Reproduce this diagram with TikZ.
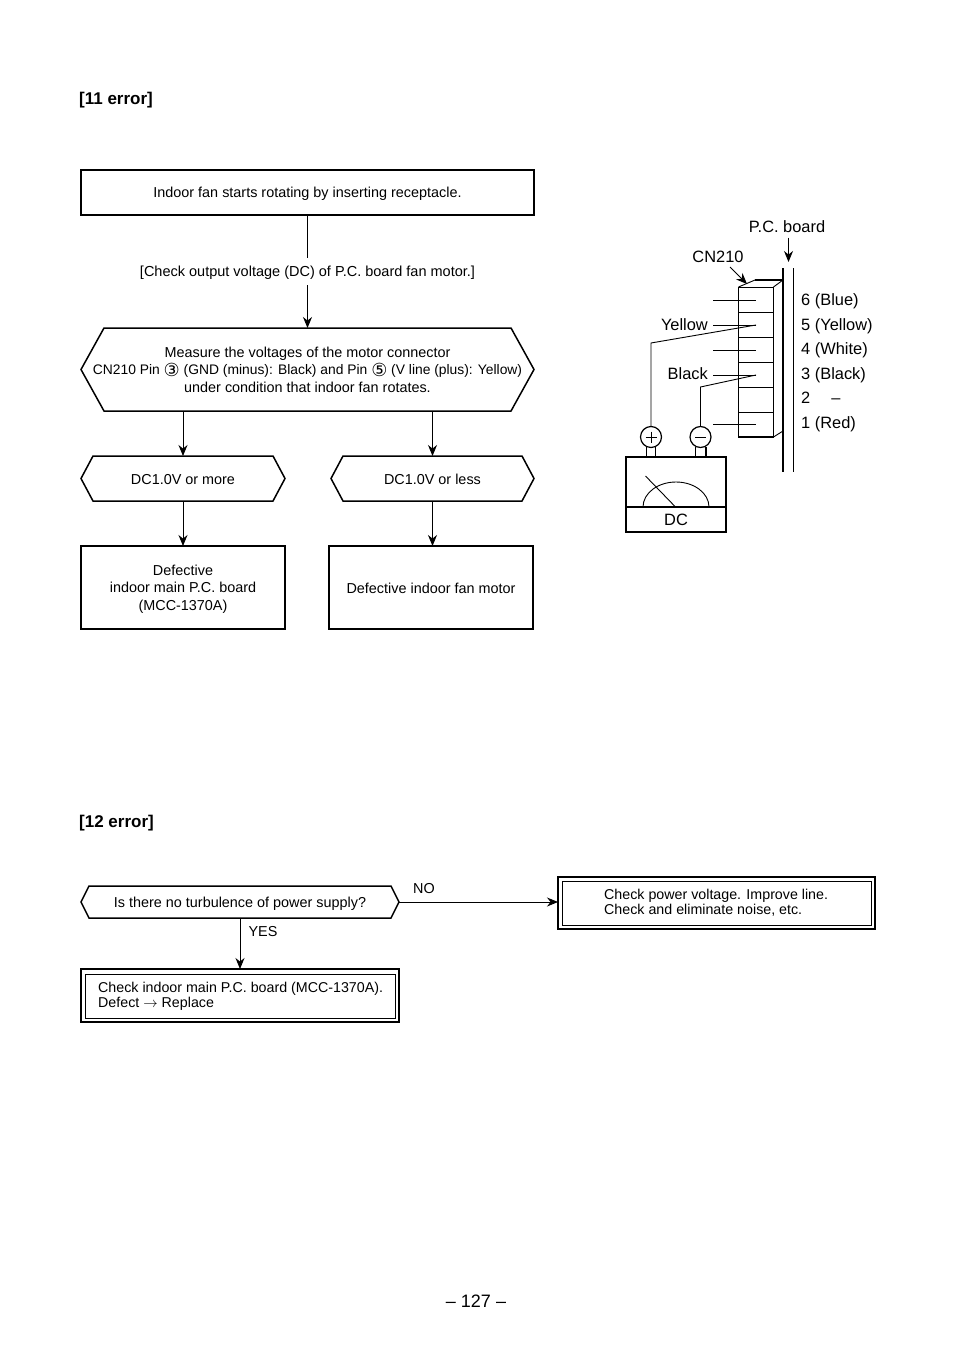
\documentclass[tikz,border=0pt]{standalone}
\usepackage{fontspec}
\setmainfont{Liberation Sans}
\newfontfamily\symfont{DejaVu Sans}
\usetikzlibrary{arrows.meta,calc}
\tikzset{
  txt/.style={font=\fontsize{14.4}{17.8}\selectfont,inner sep=0pt,align=center},
  oneline/.style={text height=11pt,text depth=0pt},
  threeline/.style={text height=49.5pt,text depth=3pt},
  lbl/.style={font=\fontsize{16.4}{19}\selectfont,inner sep=0pt,text height=11.8pt,text depth=0pt},
  head/.style={font=\fontsize{17}{19}\selectfont\bfseries,inner sep=0pt,anchor=west,text height=11.8pt,text depth=0pt},
  flowbox/.style={draw,line width=1.5pt,outer sep=0pt},
  hexbox/.style={txt,outer sep=0pt},
  hexline/.style={line width=1.5pt,line join=miter},
  dblbox/.style={draw,line width=1.5pt,outer sep=0pt},
  inbox/.style={draw,line width=0.8pt,outer sep=0pt,inner sep=0pt},
  intxt/.style={font=\fontsize{14.25}{15.2}\selectfont,inner sep=0pt,align=left,anchor=west},
  flow/.style={line width=0.9pt,-{Stealth[length=11pt,width=9pt]}},
  wire/.style={line width=0.9pt},
  heavy/.style={line width=1.8pt},
  bignum/.style={font=\fontsize{18}{19}\selectfont,inner sep=0pt}
}
\newcommand{\HexLine}[2]{\draw[hexline] (#1.west) -- ($(#1.north west)+(#2,0)$) -- ($(#1.north east)+(-#2,0)$) -- (#1.east) -- ($(#1.south east)+(-#2,0)$) -- ($(#1.south west)+(#2,0)$) -- cycle;}
\newcommand{\Ring}[1]{\raisebox{-1.5pt}{\symfont\fontsize{18}{10}\selectfont #1}}
\begin{document}
\begin{tikzpicture}[x=1pt,y=-1pt]
  \useasboundingbox (0,0) rectangle (954,1348);
  \node[head] (head11) at (79,99){[11 error]};
  \node[head] (head12) at (79,822){[12 error]};

  % upper chart
  \node[txt,oneline,flowbox,minimum width=453pt,minimum height=45pt] (start) at (307.5,192.5){Indoor fan starts rotating by inserting receptacle.};
  \node[hexbox,threeline,minimum width=453pt,minimum height=83pt] (measure) at (307.5,369.5){Measure the voltages of the motor connector\\{\fontsize{13.85}{17.8}\selectfont CN210 Pin \Ring{③} (GND (minus): Black) and Pin \Ring{⑤} (V line (plus): Yellow)}\\under condition that indoor fan rotates.};
  \HexLine{measure}{23}
  \node[hexbox,oneline,minimum width=204pt,minimum height=45pt] (dcmore) at (183,478.5){DC1.0V or more};
  \HexLine{dcmore}{12}
  \node[hexbox,oneline,minimum width=203pt,minimum height=45pt] (dcless) at (432.5,478.5){DC1.0V or less};
  \HexLine{dcless}{12}
  \node[txt,threeline,flowbox,minimum width=204pt,minimum height=83pt] (mainpcb) at (183,587.5){Defective\\indoor main P.C. board\\(MCC-1370A)};
  \node[txt,oneline,flowbox,minimum width=204pt,minimum height=83pt] (fanmotor) at (431,587.5){Defective indoor fan motor};
  \draw[flow] (start) -- (measure);
  \node[txt,oneline,font=\fontsize{14.5}{17.8}\selectfont,fill=white,inner ysep=8pt,inner xsep=2pt] (checkdc) at (307.5,271){[Check output voltage (DC) of P.C. board fan motor.]};
  \draw[flow] (dcmore.north |- measure.south) -- (dcmore.north);
  \draw[flow] (dcless.north |- measure.south) -- (dcless.north);
  \draw[flow] (dcmore.south) -- (mainpcb.north -| dcmore.south);
  \draw[flow] (dcless.south) -- (fanmotor.north -| dcless.south);

  % lower chart
  \node[hexbox,oneline,minimum width=318pt,minimum height=32pt] (supply) at (240,902){Is there no turbulence of power supply?};
  \HexLine{supply}{8}
  \node[dblbox,minimum width=318pt,minimum height=53pt] (checkmain) at (240,995.5){};
  \node[inbox,minimum width=310pt,minimum height=44pt] (checkmainin) at (240,996){};
  \node[intxt] (checkmaintxt) at (98,996){Check indoor main P.C. board (MCC-1370A).\\Defect $\rightarrow$ Replace};
  \node[dblbox,minimum width=317pt,minimum height=52pt] (checkpower) at (716.5,903){};
  \node[inbox,minimum width=309pt,minimum height=44pt] (checkpowerin) at (716.5,903){};
  \node[intxt] (checkpowertxt) at (604,903){Check power voltage. Improve line.\\Check and eliminate noise, etc.};
  \draw[flow] (supply.east) -- (checkpower.west |- supply.east);
  \draw[flow] (supply.south) -- (checkmain.north -| supply.south);
  \node[txt,oneline] (no) at (424,888){NO};
  \node[txt,oneline] (yes) at (263,931){YES};

  % connector and meter
  \coordinate (a1) at (738.5,287);
  \coordinate (a2) at (773.5,287);
  \coordinate (a3) at (773.5,437);
  \coordinate (a4) at (738.5,437);
  \coordinate (b1) at (755,280);
  \coordinate (b2) at (783,280);
  \coordinate (b3) at (783,431);
  \draw[wire] (a1) rectangle (a3);
  \draw[wire] (a1) -- (b1) (a2) -- (b2) (a3) -- (b3);
  \draw[heavy] (b1) -- (b2);
  \draw[heavy] (a4) -- (a3);
  \draw[heavy] (a2) -- (a3);
  \draw[heavy] (783,268) -- (783,472);
  \draw[wire] (793,268) -- (793,472);
  \foreach \y in {312,337,362,387,412}
    \draw[wire] (738.5,\y) -- (773.5,\y);
  \foreach \y in {300,325,350,375,424.5}
    \draw[wire] (713,\y) -- (756,\y);

  \node[draw,circle,line width=1.2pt,minimum size=21pt,inner sep=0pt] (plus) at (651,437){};
  \node[draw,circle,line width=1.2pt,minimum size=21pt,inner sep=0pt] (minus) at (700.5,437){};
  \draw[wire] ($(plus.center)+(-5.5,0)$) -- ($(plus.center)+(5.5,0)$) ($(plus.center)+(0,-5.5)$) -- ($(plus.center)+(0,5.5)$);
  \draw[wire] ($(minus.center)+(-5.5,0)$) -- ($(minus.center)+(5.5,0)$);
  \coordinate (pin5) at (756,325);
  \coordinate (pin3) at (756,375);
  \draw[wire] (pin5) -- (plus.north |- 0,343) -- (plus.north);
  \draw[wire] (pin3) -- (minus.north |- 0,387) -- (minus.north);
  \node[draw,line width=1.5pt,minimum width=100pt,minimum height=75pt,outer sep=0pt] (meter) at (676,494.5){};
  \foreach \x in {646.5,655.5,695.5,706}
    \draw[line width=1.2pt] (\x,447) -- (\x,457);
  \draw[line width=1.2pt] (meter.west |- 0,507) -- (meter.east |- 0,507);
  \draw[wire] (643,507) arc[start angle=180,end angle=360,x radius=33,y radius=25];
  \draw[wire] (645.5,476) -- (675.5,507);
  \node[lbl] (dc) at (676,519.5){DC};

  % labels
  \node[lbl] (pcb) at (787,226.5){P.C. board};
  \node[lbl] (cn) at (718,256.5){CN210};
  \coordinate (pcbtip) at (788.5,262);
  \coordinate (cntip) at (747,284);
  \draw[flow] (pcbtip |- pcb.south) ++(0,5) -- (pcbtip);
  \draw[flow] (730,267) -- (cntip);
  \node[lbl,anchor=east] (yellow) at (708,325){Yellow};
  \node[lbl,anchor=east] (black) at (708,374){Black};
  \foreach \y/\t in {300/6 (Blue),324.5/5 (Yellow),349/4 (White),373.5/3 (Black),398/2\hspace{21pt}–,422.5/1 (Red)}
    \node[lbl,anchor=west] (p\y) at (801,\y){\t};
  \node[bignum] (page) at (476,1301){– 127 –};
\end{tikzpicture}
\end{document}
